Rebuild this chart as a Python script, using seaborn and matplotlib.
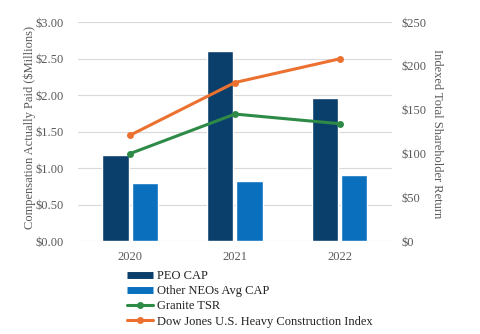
import matplotlib
matplotlib.use("Agg")
import matplotlib.pyplot as plt
from matplotlib.lines import Line2D
from matplotlib.ticker import FuncFormatter
import seaborn as sns
import pandas as pd

years = ["2020", "2021", "2022"]
peo_cap = [1.18, 2.60, 1.96]
neo_cap = [0.79, 0.83, 0.90]
granite_tsr = [100, 145, 134]
dow_jones = [121, 181, 208]

series_bar = ["PEO CAP", "Other NEOs Avg CAP"]
series_line = ["Granite TSR", "Dow Jones U.S. Heavy Construction Index"]
colors = {"PEO CAP": "#0B3F6B", "Other NEOs Avg CAP": "#0A70BE",
          "Granite TSR": "#2E8B47", "Dow Jones U.S. Heavy Construction Index": "#EC7130"}

sns.set_theme(style="white")
plt.rcParams['font.family'] = ['Liberation Serif', 'DejaVu Serif']
gray = "#595959"

bars = pd.DataFrame({
    "year": years * 2,
    "value": peo_cap + neo_cap,
    "series": [series_bar[0]] * 3 + [series_bar[1]] * 3,
})

fig = plt.figure(figsize=(4.8, 3.34), dpi=100)
ax = fig.add_axes([0.1625, 0.278, 0.654, 0.656])
sns.barplot(data=bars, x="year", y="value", hue="series", palette=colors,
            width=0.56, gap=0.1, ax=ax, legend=False, saturation=1)
ax.set_ylim(0, 3.0)
ax.set_xlim(-0.5, 2.5)
ax.set_yticks([0, 0.5, 1.0, 1.5, 2.0, 2.5, 3.0])
ax.yaxis.set_major_formatter(FuncFormatter(lambda v, p: f"${v:.2f}"))
ax.grid(axis="y", color="#D9D9D9", linewidth=0.8)
ax.set_axisbelow(True)
for s in ax.spines.values():
    s.set_visible(False)
ax.set_xlabel("")
ax.set_ylabel("Compensation Actually Paid ($Millions)", fontsize=9, color=gray)
ax.yaxis.set_label_coords(-0.134, 0.52)
ax.tick_params(axis="y", labelsize=9, colors=gray, length=0, pad=10)
ax.tick_params(axis="x", labelsize=9, colors=gray, length=0, pad=7)

ax2 = ax.twinx()
lines = pd.DataFrame({
    "x": list(range(len(years))) * 2,
    "value": granite_tsr + dow_jones,
    "series": [series_line[0]] * 3 + [series_line[1]] * 3,
})
sns.lineplot(data=lines, x="x", y="value", hue="series", palette=colors,
             marker="o", markersize=5, markeredgewidth=0, linewidth=2.2,
             ax=ax2, legend=False)
ax2.set_ylim(0, 250)
ax2.set_yticks([0, 50, 100, 150, 200, 250])
ax2.yaxis.set_major_formatter(FuncFormatter(lambda v, p: f"${v:.0f}"))
for s in ax2.spines.values():
    s.set_visible(False)
ax2.set_ylabel("Indexed Total Shareholder Return", fontsize=9, color=gray,
               rotation=270, labelpad=2)
ax2.yaxis.set_label_coords(1.162, 0.49)
ax2.tick_params(axis="y", labelsize=9, colors=gray, length=0, pad=7)
ax2.set_xlabel("")
ax.set_xlim(-0.5, 2.5)

handles = [
    Line2D([0], [0], color=colors["PEO CAP"], linewidth=5, solid_capstyle="butt"),
    Line2D([0], [0], color=colors["Other NEOs Avg CAP"], linewidth=5, solid_capstyle="butt"),
    Line2D([0], [0], color=colors["Granite TSR"], linewidth=2.2, marker="o", markersize=4),
    Line2D([0], [0], color=colors["Dow Jones U.S. Heavy Construction Index"], linewidth=2.2, marker="o", markersize=4),
]
fig.legend(handles, series_bar + series_line, loc="upper left",
           bbox_to_anchor=(0.264, 0.191), frameon=False, fontsize=9,
           handlelength=2.1, handletextpad=0.3, labelspacing=0.25,
           borderaxespad=0, borderpad=0, labelcolor="#222222")

fig.savefig("out.png", dpi=100)
